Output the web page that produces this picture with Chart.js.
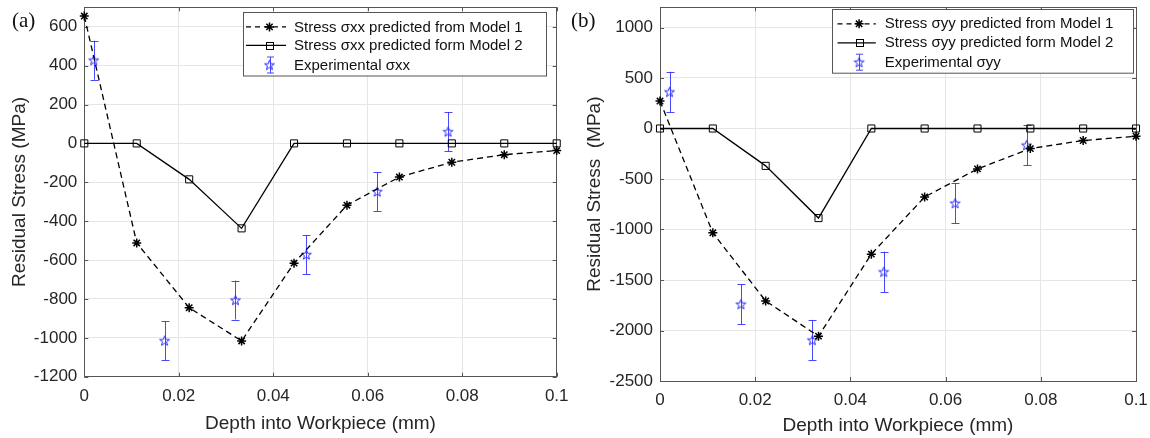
<!DOCTYPE html>
<html><head><meta charset="utf-8">
<script src="https://cdn.jsdelivr.net/npm/chart.js@4.4.1/dist/chart.umd.min.js"></script>
<style>
html,body{margin:0;padding:0;background:#fff;width:1150px;height:438px;overflow:hidden;}
#ca{position:absolute;left:0;top:0;}
#cb{position:absolute;left:575px;top:0;}
.lab{position:absolute;font-family:'Liberation Serif','Times New Roman',serif;font-size:21px;line-height:21px;color:#111;white-space:nowrap;}
</style></head><body>
<canvas id="ca" width="575" height="438"></canvas>
<canvas id="cb" width="575" height="438"></canvas>
<div class="lab" style="left:12px;top:10px">(a)</div>
<div class="lab" style="left:571px;top:10px">(b)</div>
<script>
// ---------------- data ----------------
const depthModel = [0, 0.0111, 0.0222, 0.0333, 0.0444, 0.0556, 0.0667, 0.0778, 0.0889, 0.1];
const sxxModel1 = [655, -512, -845, -1016, -616, -318, -173, -97, -58, -37];
const sxxModel2 = [0, 0, -185, -437, 0, 0, 0, 0, 0, 0];
const depthExp = [0.002, 0.017, 0.032, 0.047, 0.062, 0.077];
const sxxExp = [428, -1015, -806, -572, -248, 60];
const sxxErr = [100, 100, 100, 100, 100, 100];
const syyModel1 = [272, -1033, -1708, -2056, -1244, -678, -400, -199, -119, -76];
const syyModel2 = [0, 0, -370, -887, 0, 0, 0, 0, 0, 0];
const syyExp = [362, -1740, -2095, -1420, -740, -165];
const syyErr = [200, 200, 200, 200, 200, 200];
const xTicks = [0, 0.02, 0.04, 0.06, 0.08, 0.1];
const xTickLabels = ['0', '0.02', '0.04', '0.06', '0.08', '0.1'];
const yTicksA = [-1200, -1000, -800, -600, -400, -200, 0, 200, 400, 600];
const yTicksB = [-2500, -2000, -1500, -1000, -500, 0, 500, 1000];
const legendA = ['Stress σxx predicted from Model 1', 'Stress σxx predicted form Model 2', 'Experimental σxx'];
const legendB = ['Stress σyy predicted from Model 1', 'Stress σyy predicted form Model 2', 'Experimental σyy'];
const yTitleA = 'Residual Stress (MPa)';
const yTitleB = 'Residual Stress  (MPa)';
const xTitle = 'Depth into Workpiece (mm)';

// ---------------- styling ----------------
const FAM = "'Liberation Sans', Arial, Helvetica, sans-serif";
const AXC = '#555555';
const TXT = '#262626';
const BLUE = 'rgb(40,40,255)';
const BLUE_BAR = 'rgba(40,40,255,0.85)';

function makePentagram(color){
  const s = 15, c = document.createElement('canvas'); c.width = s; c.height = s;
  const g = c.getContext('2d'); g.strokeStyle = color; g.lineWidth = 1;
  const R = 5.2, r = 2.1, cx = s/2, cy = s/2 + 0.4;
  g.beginPath();
  for (let k = 0; k < 10; k++) {
    const a = -Math.PI/2 + k*Math.PI/5, rr = (k % 2) ? r : R;
    const px = cx + rr*Math.cos(a), py = cy + rr*Math.sin(a);
    if (k) g.lineTo(px, py); else g.moveTo(px, py);
  }
  g.closePath(); g.stroke();
  return c;
}
const pent = makePentagram(BLUE);

function drawStar(ctx, x, y, r){
  ctx.beginPath();
  ctx.moveTo(x - r, y); ctx.lineTo(x + r, y);
  ctx.moveTo(x, y - r); ctx.lineTo(x, y + r);
  const d = r*Math.SQRT1_2;
  ctx.moveTo(x - d, y - d); ctx.lineTo(x + d, y + d);
  ctx.moveTo(x - d, y + d); ctx.lineTo(x + d, y - d);
  ctx.stroke();
}

const decor = {
  id: 'decor',
  beforeDatasetsDraw(chart, args, o){
    const {ctx, chartArea: ca, scales} = chart;
    ctx.save();
    ctx.strokeStyle = AXC; ctx.lineWidth = 1;
    ctx.strokeRect(Math.round(ca.left) + 0.5, Math.round(ca.top) + 0.5, Math.round(ca.right - ca.left), Math.round(ca.bottom - ca.top));
    ctx.beginPath();
    scales.x.ticks.forEach(t => {
      const px = Math.round(scales.x.getPixelForValue(t.value)) + 0.5;
      ctx.moveTo(px, ca.bottom); ctx.lineTo(px, ca.bottom - 4);
      ctx.moveTo(px, ca.top); ctx.lineTo(px, ca.top + 4);
    });
    scales.y.ticks.forEach(t => {
      const py = Math.round(scales.y.getPixelForValue(t.value)) + 0.5;
      ctx.moveTo(ca.left, py); ctx.lineTo(ca.left + 4, py);
      ctx.moveTo(ca.right, py); ctx.lineTo(ca.right - 4, py);
    });
    ctx.stroke();
    ctx.strokeStyle = BLUE_BAR; ctx.lineWidth = 1;
    ctx.beginPath();
    o.ex.forEach((xv, i) => {
      const px = Math.round(scales.x.getPixelForValue(xv)) + 0.5;
      const y1 = scales.y.getPixelForValue(o.ey[i] + o.err[i]);
      const y2 = scales.y.getPixelForValue(o.ey[i] - o.err[i]);
      ctx.moveTo(px, y1); ctx.lineTo(px, y2);
      ctx.moveTo(px - 4, Math.round(y1) + 0.5); ctx.lineTo(px + 4, Math.round(y1) + 0.5);
      ctx.moveTo(px - 4, Math.round(y2) + 0.5); ctx.lineTo(px + 4, Math.round(y2) + 0.5);
    });
    ctx.stroke();
    ctx.restore();
  },
  afterDatasetsDraw(chart, args, o){
    const {ctx, chartArea: ca} = chart;
    const L = o.leg;
    const bx = Math.round(ca.right - L.dr) + 0.5, by = Math.round(ca.top + L.dt) + 0.5;
    ctx.save();
    ctx.fillStyle = '#fff'; ctx.strokeStyle = AXC; ctx.lineWidth = 1;
    ctx.fillRect(bx, by, L.w, L.h); ctx.strokeRect(bx, by, L.w, L.h);
    const rows = L.rows.map(r => by + r);
    const x1 = bx + L.s1, x2 = bx + L.s2, xm = bx + L.sm;
    ctx.strokeStyle = '#000'; ctx.lineWidth = 1.3; ctx.setLineDash([5, 4]);
    ctx.beginPath(); ctx.moveTo(x1, rows[0]); ctx.lineTo(x2, rows[0]); ctx.stroke();
    ctx.setLineDash([]); ctx.lineWidth = 1.5;
    drawStar(ctx, xm, rows[0], 4.5);
    ctx.lineWidth = 1.3;
    ctx.beginPath(); ctx.moveTo(x1, rows[1]); ctx.lineTo(x2, rows[1]); ctx.stroke();
    ctx.lineWidth = 1;
    ctx.strokeRect(Math.round(xm - 3.5) + 0.5, Math.round(rows[1] - 3.5) + 0.5, 7, 7);
    ctx.strokeStyle = BLUE_BAR; ctx.lineWidth = 1;
    const ex = Math.round(xm) + 0.5;
    ctx.beginPath();
    ctx.moveTo(ex, rows[2] - 8); ctx.lineTo(ex, rows[2] + 8);
    ctx.moveTo(ex - 3.5, rows[2] - 8); ctx.lineTo(ex + 3.5, rows[2] - 8);
    ctx.moveTo(ex - 3.5, rows[2] + 8); ctx.lineTo(ex + 3.5, rows[2] + 8);
    ctx.stroke();
    ctx.drawImage(pent, xm - pent.width/2, rows[2] - pent.height/2);
    ctx.fillStyle = '#111'; ctx.font = '15px ' + FAM; ctx.textBaseline = 'middle'; ctx.textAlign = 'left';
    o.labels.forEach((t, i) => ctx.fillText(t, bx + L.tx, rows[i] + 0.5));
    ctx.restore();
  }
};

function makeChart(id, c){
  const pts = (ys, xs) => xs.map((x, i) => ({x: x, y: ys[i]}));
  return new Chart(document.getElementById(id), {
    type: 'scatter',
    plugins: [decor],
    data: {datasets: [
      {data: pts(c.m1, depthModel), showLine: true, borderColor: '#000', borderWidth: 1.3, borderDash: [6, 4],
       pointStyle: 'star', pointRadius: 4.5, pointBorderWidth: 1.5, pointBorderColor: '#000', pointBackgroundColor: '#000', clip: false},
      {data: pts(c.m2, depthModel), showLine: true, borderColor: '#000', borderWidth: 1.3,
       pointStyle: 'rect', pointRadius: 5, pointBorderWidth: 1, pointBorderColor: '#000', pointBackgroundColor: 'rgba(0,0,0,0)', clip: false},
      {data: pts(c.ex, depthExp), showLine: false, pointStyle: pent, pointRadius: 6, clip: false}
    ]},
    options: {
      responsive: false, animation: false, events: [],
      layout: {padding: {left: 0, top: 7.3, right: c.padR, bottom: 0}},
      plugins: {
        legend: {display: false}, tooltip: {enabled: false},
        decor: {ex: depthExp, ey: c.ex, err: c.err, labels: c.labels, leg: c.leg}
      },
      scales: {
        x: {
          type: 'linear', min: 0, max: 0.1,
          afterBuildTicks: s => { s.ticks = xTicks.map(v => ({value: v})); },
          afterFit: s => { s.height = c.xh; s.paddingLeft = 0; s.paddingRight = 0; },
          ticks: {callback: (v, i) => xTickLabels[i], font: {size: 17, family: FAM}, color: TXT, padding: 9, maxRotation: 0, autoSkip: false},
          grid: {color: '#e6e6e6', drawTicks: false},
          border: {display: false},
          title: {display: true, text: xTitle, font: {size: 19, family: FAM}, color: TXT, padding: {top: 0, bottom: c.xtPad}}
        },
        y: {
          type: 'linear', min: c.ymin, max: c.ymax,
          afterBuildTicks: s => { s.ticks = c.yt.map(v => ({value: v})); },
          afterFit: s => { s.width = c.yw; s.paddingTop = 0; s.paddingBottom = 0; },
          ticks: {callback: (v) => String(v), font: {size: 17, family: FAM}, color: TXT, padding: 7, autoSkip: false},
          grid: {color: '#e6e6e6', drawTicks: false},
          border: {display: false},
          title: {display: true, text: c.ytitle, font: {size: 19, family: FAM}, color: TXT, padding: {top: 8.6, bottom: 0}}
        }
      }
    }
  });
}

makeChart('ca', {
  m1: sxxModel1, m2: sxxModel2, ex: sxxExp, err: sxxErr, labels: legendA, ytitle: yTitleA,
  ymin: -1200, ymax: 700, yt: yTicksA, yw: 84.3, xh: 61.3, xtPad: 2.6, padR: 18.3,
  leg: {dr: 314, dt: 5, w: 303, h: 63.5, rows: [14.4, 32.9, 52.5], s1: 2.5, s2: 42.5, sm: 26, tx: 50.5}
});
makeChart('cb', {
  m1: syyModel1, m2: syyModel2, ex: syyExp, err: syyErr, labels: legendB, ytitle: yTitleB,
  ymin: -2500, ymax: 1200, yt: yTicksB, yw: 85, xh: 57, xtPad: 0.6, padR: 14,
  leg: {dr: 304.3, dt: 1.7, w: 301, h: 63.7, rows: [14.3, 33.3, 52.7], s1: 5, s2: 43.3, sm: 26.6, tx: 52.3}
});
</script>
</body></html>
